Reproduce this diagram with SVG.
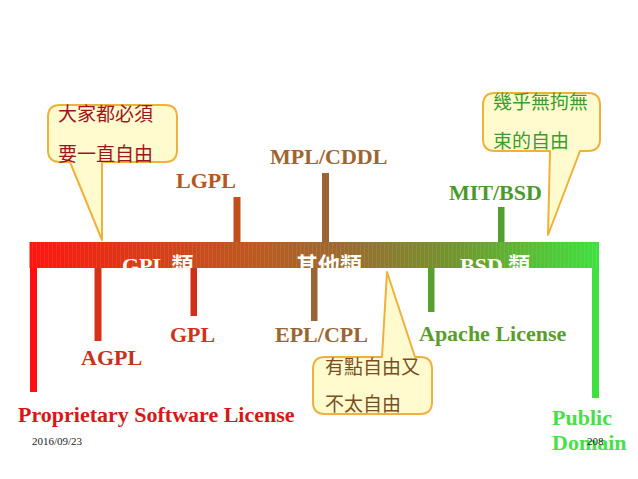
<svg xmlns="http://www.w3.org/2000/svg" width="638" height="479" viewBox="0 0 638 479">
<defs>
<linearGradient id="barGrad" x1="0" y1="0" x2="1" y2="0">
<stop offset="0" stop-color="#ff1410"/>
<stop offset="0.2" stop-color="#d83c18"/>
<stop offset="0.4" stop-color="#bb5a20"/>
<stop offset="0.55" stop-color="#9c6a30"/>
<stop offset="0.75" stop-color="#72962e"/>
<stop offset="1" stop-color="#40e040"/>
</linearGradient>
<pattern id="stripes" x="0" y="0" width="4" height="10" patternUnits="userSpaceOnUse">
<rect x="0" y="0" width="1" height="10" fill="#ffffff" fill-opacity="0.08"/>
</pattern>
<clipPath id="barClip"><rect x="29.5" y="242" width="569.5" height="26"/></clipPath>
</defs>
<style>
.lbl{font-family:"Liberation Serif","Times New Roman",serif;font-weight:bold;font-size:22px}
.bar{font-family:"Liberation Serif","Noto Sans CJK TC",serif;font-weight:bold;font-size:22px;fill:#ffffff}
.cj{font-family:"Noto Sans CJK TC","Noto Sans CJK SC",sans-serif;font-size:19px}
.call{fill:#fffbcf;stroke:#f0b03c;stroke-width:2;stroke-linejoin:round}
.foot{font-family:"Liberation Serif",serif;font-size:11px;fill:#222222}
</style>
<rect width="638" height="479" fill="#ffffff"/>

<g id="connectors">
<rect x="30" y="266" width="7" height="126" fill="#ff1010"/>
<rect x="592" y="266" width="7" height="132" fill="#40e040"/>
<rect x="94.5" y="266" width="7" height="75" fill="#d83018"/>
<rect x="190.5" y="266" width="6.5" height="50" fill="#d03018"/>
<rect x="311" y="266" width="6.5" height="55" fill="#9a6434"/>
<rect x="428" y="266" width="6.5" height="46" fill="#58a030"/>
<rect x="233.5" y="197" width="7" height="46" fill="#c0501a"/>
<rect x="322" y="173" width="7" height="70" fill="#9c6432"/>
<rect x="498" y="207" width="6.5" height="36" fill="#50a030"/>
</g>

<g id="timeline">
<rect x="29.5" y="242" width="569.5" height="26" fill="url(#barGrad)"/>
<rect x="29.5" y="242" width="569.5" height="26" fill="url(#stripes)"/>
<g clip-path="url(#barClip)">
<text class="bar" x="122" y="273">GPL 類</text>
<text class="bar" x="296" y="273">其他類</text>
<text class="bar" x="460" y="273">BSD 類</text>
</g>
</g>

<g id="proprietary"><text class="lbl" x="18" y="422" fill="#d81818">Proprietary Software License</text></g>
<g id="agpl"><text class="lbl" x="81" y="365" fill="#c8301a">AGPL</text></g>
<g id="gpl"><text class="lbl" x="170" y="342" fill="#d0321c">GPL</text></g>
<g id="lgpl"><text class="lbl" x="176" y="188" fill="#b8561e">LGPL</text></g>
<g id="mpl"><text class="lbl" x="270" y="164" fill="#a0652f">MPL/CDDL</text></g>
<g id="epl"><text class="lbl" x="275" y="342" fill="#9a6634">EPL/CPL</text></g>
<g id="apache"><text class="lbl" x="419" y="341" fill="#5a9c2e">Apache License</text></g>
<g id="mit"><text class="lbl" x="449" y="200" fill="#4a9a2a">MIT/BSD</text></g>
<g id="public"><text class="lbl" x="552" y="425" fill="#48e048">Public</text><text class="lbl" x="552" y="450" fill="#48e048">Domain</text></g>

<g id="callout-gpl">
<path class="call" d="M60,105 H165 Q177,105 177,117 V150 Q177,162 165,162 H102 V240 L70,162 H60 Q48,162 48,150 V117 Q48,105 60,105 Z"/>
<text class="cj" x="58" y="121" fill="#a0141e">大家都必須</text>
<text class="cj" x="58" y="161" fill="#a0141e">要一直自由</text>
</g>

<g id="callout-other">
<path class="call" d="M325,357 H382 L387,272 L415,357 H420 Q432,357 432,369 V402 Q432,414 420,414 H325 Q313,414 313,402 V369 Q313,357 325,357 Z"/>
<text class="cj" x="325" y="374" fill="#7a4e1e">有點自由又</text>
<text class="cj" x="325" y="411" fill="#7a4e1e">不太自由</text>
</g>

<g id="callout-bsd">
<path class="call" d="M495,93 H588 Q600,93 600,105 V139 Q600,151 588,151 H580 L548,235 L550,151 H495 Q483,151 483,139 V105 Q483,93 495,93 Z"/>
<text class="cj" x="493" y="109" fill="#3c9c2c">幾乎無拘無</text>
<text class="cj" x="493" y="148" fill="#3c9c2c">束的自由</text>
</g>

<g id="footer">
<text class="foot" x="32" y="445">2016/09/23</text>
<text class="foot" x="587" y="445">208</text>
</g>
</svg>
